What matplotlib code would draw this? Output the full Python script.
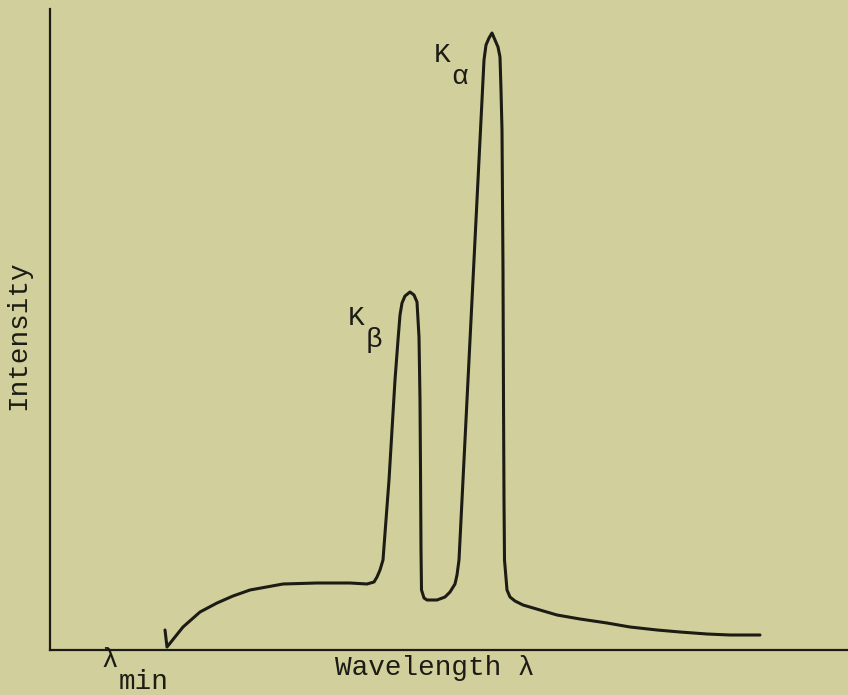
import matplotlib
matplotlib.use("Agg")
import matplotlib.pyplot as plt

# spectrum (arbitrary units)
wavelength = [115, 117, 125, 133, 150, 167, 183, 200, 233, 267, 300, 317, 324, 327, 330,
              333, 336, 339, 342, 345, 348, 350, 352, 355, 360, 364, 367, 369, 370, 370.5,
              371, 371.5, 374, 377, 387, 395, 400, 405, 407, 409, 414, 419, 424,
              429, 432, 434, 436, 439, 442, 445, 448, 450, 451, 452, 452.5,
              453, 453.5, 454, 454.5, 457, 460, 465, 473, 490, 507, 530, 557, 580,
              607, 630, 657, 680, 710]
intensity = [20, 3, 13, 23, 38, 47, 54, 60, 66, 67, 67, 66, 68, 73, 80,
             90, 130, 170, 220, 270, 310, 335, 347, 354, 358, 355, 348, 313, 250, 180,
             100, 60, 52, 50, 50, 53, 58, 66, 75, 90, 190, 290, 390,
             490, 550, 590, 605, 612, 617, 610, 603, 593, 560, 520, 450,
             380, 250, 150, 90, 60, 53, 49, 45, 40, 35, 31, 27, 23,
             20, 18, 16, 15, 15]

bg = "#d1d09d"
ink = "#1c1c14"
font = ["Liberation Mono", "DejaVu Sans Mono"]
fs = 20

fig = plt.figure(figsize=(8.48, 6.95), dpi=100, facecolor=bg)
ax = fig.add_axes([50/848, 1 - 650/695, 798/848, 641/695])
ax.set_facecolor(bg)
ax.plot(wavelength, intensity, color=ink, lw=2.2, solid_joinstyle="round",
        solid_capstyle="round")
ax.set_xlim(0, 798)
ax.set_ylim(0, 641)
ax.set_xticks([])
ax.set_yticks([])
for s in ["top", "right"]:
    ax.spines[s].set_visible(False)
for s in ["left", "bottom"]:
    ax.spines[s].set_color(ink)
    ax.spines[s].set_linewidth(1.6)

# labels
fig.text(18/848, 1 - 335/695, "Intensity", rotation=90, ha="center", va="center",
         fontsize=fs, family=font, color=ink)
fig.text(435/848, 1 - 668/695, "Wavelength \u03bb", ha="center", va="center",
         fontsize=fs, family=font, color=ink)
fig.text(110/848, 1 - 667/695, "\u03bb", ha="center", va="baseline",
         fontsize=fs, family=font, color=ink)
fig.text(119/848, 1 - 689/695, "min", ha="left", va="baseline",
         fontsize=fs, family=font, color=ink)
fig.text(442/848, 1 - 55/695, "K", ha="center", va="center",
         fontsize=fs, family=font, color=ink)
fig.text(460/848, 1 - 77/695, "\u03b1", ha="center", va="center",
         fontsize=fs, family=font, color=ink)
fig.text(356/848, 1 - 318/695, "K", ha="center", va="center",
         fontsize=fs, family=font, color=ink)
fig.text(374/848, 1 - 340/695, "\u03b2", ha="center", va="center",
         fontsize=fs, family=font, color=ink)

fig.savefig("out.png", dpi=100, facecolor=bg)
